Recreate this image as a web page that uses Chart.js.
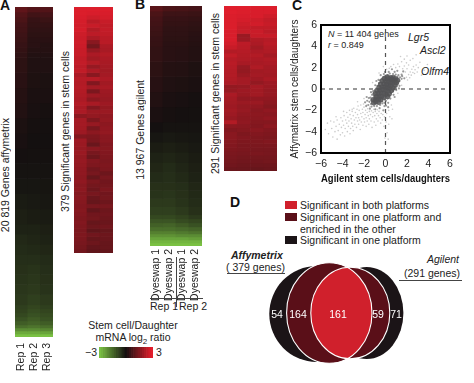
<!DOCTYPE html>
<html><head><meta charset="utf-8">
<script src="https://cdn.jsdelivr.net/npm/chart.js@4"></script>
<style>
html,body{margin:0;padding:0;background:#fff;overflow:hidden}
#page{position:relative;width:474px;height:383px;font-family:"Liberation Sans",Arial,sans-serif;font-size:10.5px;color:#222}
canvas{position:absolute;display:block}
.t{position:absolute;white-space:nowrap;line-height:12px}
.v{position:absolute;white-space:nowrap;line-height:12px;writing-mode:vertical-rl;transform:rotate(180deg)}
.p{position:absolute;font-weight:bold;font-size:14px;line-height:14px;color:#111}
.ln{position:absolute;background:#444}
.sw{position:absolute;left:285px;width:12px;height:8px}
</style></head><body><div id="page">
<div class="p" style="left:0;top:-2px">A</div>
<div class="p" style="left:135px;top:-3px">B</div>
<div class="p" style="left:292px;top:-2px">C</div>
<div class="p" style="left:230px;top:195px">D</div>
<div class="v" style="left:-1px;top:118px">20 819 Genes affymetrix</div>
<div class="v" style="left:59px;top:51px">379 Significant genes in stem cells</div>
<div class="v" style="left:134px;top:80px">13 967 Genes agilent</div>
<div class="v" style="left:209px;top:13px">291 Significant genes in stem cells</div>
<div class="t" style="left:150px;top:300px">Rep 1</div>
<div class="t" style="left:179px;top:300px">Rep 2</div>
<div class="t" style="left:83px;top:319px;width:100px;text-align:center">Stem cell/Daughter</div>
<div class="t" style="left:83px;top:331px;width:100px;text-align:center">mRNA log<sub style="font-size:8px;line-height:0">2</sub> ratio</div>
<div class="t" style="left:85px;top:346px">−3</div>
<div class="t" style="left:156px;top:346px">3</div>
<div class="t" style="left:328px;top:28px;font-size:9px"><i>N</i> = 11 404 genes</div>
<div class="t" style="left:328px;top:39px;font-size:9px"><i>r</i> = 0.849</div>
<div class="t" style="left:408px;top:31px;font-style:italic">Lgr5</div>
<div class="t" style="left:420px;top:44px;font-style:italic">Ascl2</div>
<div class="t" style="left:421px;top:65px;font-style:italic">Olfm4</div>
<div class="sw" style="top:201px;background:#d0202c"></div>
<div class="sw" style="top:213px;background:#5a0f18"></div>
<div class="sw" style="top:236px;background:#1b1417"></div>
<div class="t" style="left:300px;top:199px">Significant in both platforms</div>
<div class="t" style="left:300px;top:211px">Significant in one platform and</div>
<div class="t" style="left:300px;top:223px">enriched in the other</div>
<div class="t" style="left:300px;top:234px">Significant in one platform</div>
<div class="t" style="left:231px;top:249px;font-weight:bold;font-style:italic">Affymetrix</div>
<div class="t" style="left:226px;top:261px">( 379 genes)</div>
<div class="ln" style="left:227px;top:273px;width:58px;height:1px"></div>
<div class="t" style="right:15px;top:253px;font-style:italic">Agilent</div>
<div class="t" style="right:14px;top:267px">(291 genes)</div>
<div class="ln" style="left:399px;top:280px;width:63px;height:1px"></div>
</div>
<script>
const repLabels = ['Rep 1','Rep 2','Rep 3'];
const dyeLabels = ['Dyeswap 1','Dyeswap 2','Dyeswap 1','Dyeswap 2'];

const affyAllBinGenes = [315,315,315,315,315,315,315,315,315,315,945,945,945,945,945,945,945,945,945,945,945,630,630,630,630,630,630,630,630,252,252,252,252,252,189,189,189,189];
const affyAllRows = [
[1.1,.9,.9],[.9,.65,.7],[.8,.5,.55],[.7,.45,.45],[.65,.4,.4],[.6,.35,.35],[.55,.3,.3],[.5,.3,.25],[.45,.25,.25],[.4,.2,.2],
[.35,.18,.18],[.3,.15,.12],[.25,.1,.1],[.2,.08,.05],[.12,.03,.02],[.08,0,0],[.02,-.02,-.02],[-.05,-.05,-.05],[-.1,-.1,-.08],[-.18,-.15,-.12],[-.25,-.2,-.18],
[-.3,-.3,-.25],[-.4,-.35,-.3],[-.45,-.42,-.38],[-.5,-.5,-.45],[-.55,-.6,-.5],[-.6,-.65,-.55],[-.65,-.7,-.6],[-.7,-.8,-.7],
[-.8,-.9,-.8],[-.85,-1,-.9],[-.95,-1.1,-1],[-1.1,-1.25,-1.1],[-1.3,-1.4,-1.3],
[-1.6,-1.7,-1.6],[-2.1,-2.1,-2],[-2.6,-2.6,-2.5],[-3,-3,-3]];

const affySigRows = [
[2.9,2.9,2.9],[2.9,2.85,2.85],[2.85,2.7,2.8],[2.8,2.4,2.6],[2.75,2.6,2.5],[2.8,2.3,2.55],[2.7,2.45,2.5],[2.65,2.2,2.4],[2.7,1.7,2.4],[2.65,1.4,2.2],
[2.6,1.9,2.15],[2.6,2.2,2.3],[2.5,2.05,2.2],[2.55,2.3,2.15],[2.45,1.9,2.1],[2.5,2.2,2.05],[2.2,1.7,2.1],[2.35,2.35,2.2],[2.3,1.6,2.05],[2.35,2.1,2.15],
[2.3,1.5,2],[2.25,2,1.95],[2.2,1.75,1.9],[2.3,2.15,2],[2.15,1.6,1.85],[2.2,1.95,1.95],[1.75,1.85,1.8],[2.1,1.55,1.85],[2.1,1.9,1.75],[2.05,1.45,1.8],
[2,1.75,1.85],[1.6,1.55,1.7],[2,1.5,1.7],[1.95,1.25,1.6],[1.9,1.7,1.65],[1.95,1.45,1.6],[1.85,1.3,1.55],[1.9,1.6,1.5],[1.85,1.55,1.55],[1.8,1.35,1.5],
[1.8,1.45,1.3],[1.75,1.2,1.45],[1.8,1.5,1.35],[1.7,1.4,1.4],[1.75,1.3,1.5],[1.65,1.45,1.35],[1.7,1.25,1.4],[1.65,1.2,1.3],[1.6,1.45,1.45],[1.65,1.15,1.3],
[1.6,1.35,1.35],[1.55,1.4,1.3],[1.6,1.2,1.25],[1.55,1.3,1.35],[1.5,1.1,1.2],[1.55,1.35,1.3],[1.5,1.2,1.25],[1.45,1.3,1.2],[1.4,1.15,1.2],[1.35,1.1,1.15]];

const agilentAllBinGenes = [290,290,290,290,290,290,290,290,870,870,870,870,870,580,580,580,580,580,580,464,464,464,464,232,232,232,232,174,174,174,174,174];
const agilentAllRows = [
[1.0,.8,.75,.7],[.8,.6,.6,.55],[.7,.5,.5,.45],[.65,.45,.45,.4],[.6,.4,.4,.35],[.55,.38,.38,.3],[.5,.35,.35,.28],[.48,.32,.32,.25],
[.42,.3,.28,.22],[.35,.24,.22,.15],[.28,.18,.15,.1],[.2,.1,.08,.03],[.1,.04,.02,-.02],
[0,-.05,-.05,-.05],[-.1,-.15,-.12,-.1],[-.2,-.25,-.2,-.15],[-.3,-.35,-.28,-.2],[-.38,-.45,-.35,-.25],[-.45,-.5,-.42,-.3],
[-.55,-.55,-.5,-.38],[-.6,-.62,-.55,-.42],[-.7,-.7,-.6,-.48],[-.8,-.8,-.7,-.55],
[-.95,-.95,-.85,-.7],[-1.15,-1.15,-1,-.9],[-1.35,-1.4,-1.25,-1.1],[-1.6,-1.6,-1.5,-1.4],
[-1.9,-1.9,-1.8,-1.7],[-2.2,-2.2,-2.1,-2.1],[-2.5,-2.5,-2.5,-2.4],[-2.8,-2.8,-2.8,-2.8],[-3,-3,-3,-3]];

const agilentSigRows = [
[2.95,2.95,2.9,2.9],[2.95,2.9,2.85,2.85],[2.9,2.85,2.85,2.7],[2.9,2.8,2.7,2.55],[2.9,2.7,2.75,2.6],[2.9,2.6,2.5,2.5],[2.85,2.6,2.65,2.45],[2.85,1.95,2.6,2.6],[2.85,2.0,2.25,2.35],[2.75,2.45,2.2,2.4],
[2.6,2.4,2.05,2.3],[2.3,2.35,2.2,2.25],[2.5,2.3,2.3,2.1],[2.35,2.25,2.2,2.25],[2.4,2.15,2.15,2.2],[2.35,1.9,2.25,2.1],[2.3,1.85,2.05,2.1],[2.3,1.95,2.1,2.05],[2.25,2.1,2.0,2.15],[2.2,2.1,1.85,2],
[1.85,1.9,2.1,1.95],[1.9,2,2.05,1.9],[2.2,1.95,2.05,1.9],[2.1,1.8,1.8,1.8],[2.05,1.95,1.95,1.75],[2,1.85,1.8,1.65],[2.05,1.9,1.7,1.8],[2.0,1.8,1.75,1.7],[1.9,1.75,1.7,1.8],[2.3,1.8,1.65,1.65],
[1.75,1.7,1.6,1.75],[1.6,1.65,1.7,1.6],[1.7,1.55,1.6,1.55],[1.7,1.6,1.55,1.5],[1.65,1.55,1.55,1.6],[1.6,1.5,1.5,1.5],[1.55,1.5,1.45,1.45],[1.5,1.45,1.5,1.45],[1.45,1.4,1.4,1.4],[1.4,1.35,1.35,1.4],[1.35,1.3,1.3,1.3],[1.25,1.25,1.2,1.25]];

const colorBarValues = [-3,-2.75,-2.5,-2.25,-2,-1.75,-1.5,-1.25,-1,-.75,-.5,-.25,0,.25,.5,.75,1,1.25,1.5,1.75,2,2.25,2.5,2.75,3];

const xTickValues = [-6,-4,-2,0,2,4,6];
const dashedH = [[-6,0],[6,0]];
const dashedV = [[0,-6],[0,6]];
const scatterCore = [
[-1.1,-1.3],[-.9,-1.2],[-.65,-1.25],[-1.15,-1.0],[-.9,-.95],[-.65,-.95],[-.45,-1.0],[-.85,-.7],[-.6,-.65],[-.35,-.7],[-.15,-.8],
[-.65,-.4],[-.4,-.35],[-.15,-.4],[.05,-.5],[-.5,-.1],[-.25,-.05],[0,-.1],[.2,-.2],[-.3,.2],[-.05,.2],[.2,.15],[.35,.05],
[-.15,.5],[.1,.45],[.3,.4],[.5,.3],[0,.75],[.25,.7],[.5,.65],[.65,.55],[.2,.95],[.45,.9],[.7,.85],[.85,.75],[.5,1.05],[.7,1.05],[.95,.95],
[-.95,-.45],[-.8,-.15],[-.6,.15],[-.45,.45],[-.3,.75],[-.1,1.0],[.15,1.12],
[.2,-.7],[.35,-.45],[.55,-.15],[.7,.1],[.9,.35],[1.02,.6],[1.12,.82]];
const scatterHalo = [
[-1.6,-1.5],[-1.5,-1.2],[-1.7,-1.1],[-1.4,-.8],[-1.25,-.55],[-1.1,-.4],[-1.0,-.15],[-.85,.05],[-.75,.3],[-.6,.55],[-.5,.8],[-.35,.95],[-.2,1.1],[0,1.2],[.2,1.3],[.4,1.45],[.7,1.4],[.95,1.35],
[1.2,1.3],[1.35,1.1],[1.3,.75],[1.15,.5],[.95,.25],[.8,.05],[.7,-.2],[.5,-.4],[.35,-.65],[.2,-.9],[.05,-1.1],[-.1,-1.3],[-.3,-1.35],[-.5,-1.5],[-.8,-1.6],[-1.05,-1.6],[-1.3,-1.65],
[-1.55,-.85],[-1.15,-.2],[-.95,.35],[-.65,.85],[-.15,1.4],[.3,1.6],[.85,1.6],[1.5,1.35],[1.5,.95],[1.3,.3],[1.0,-.1],[.75,-.55],[.45,-.9],[.25,-1.3],[-.1,-1.6],[-.55,-1.8],[-1.45,-1.85],[-1.8,-1.6],[-1.9,-1.25],
[-.95,-1.9],[-.2,-2.0],[.25,-1.7],[.05,-1.55],[1.65,1.65],[1.55,1.2],[1.1,1.7],[.6,1.85],[-.05,1.6],[-.45,1.3],[-.85,.75],[-1.35,-.3],[-1.75,-.75],[1.75,1.0],[1.25,.05],[.85,-.75],
[1.1,1.15],[.85,1.2],[.35,1.15],[1.05,.7],[.9,.5],[.6,.1],[.45,-.25],[.25,-.6],[-.05,-1.0],[-.3,-1.15],[-1.35,-1.4],[-1.3,-1.05],[-1.05,-.7],[-.9,-.35],[-.7,-.1],[-.55,.25],[-.35,.6],[-.2,.85]];
const scatterSparse = [
[-5.4,-3.2],[-5.3,-4.2],[-5.0,-3.7],[-4.9,-4.5],[-4.8,-3.1],[-4.7,-4.0],[-4.6,-3.5],[-4.5,-4.7],[-4.5,-2.9],[-4.4,-3.9],[-4.3,-3.3],[-4.2,-4.3],[-4.15,-2.7],[-4.1,-3.6],[-4.0,-4.1],[-4.0,-3.0],[-3.9,-3.4],[-3.85,-2.5],[-3.8,-4.4],[-3.75,-3.7],
[-3.7,-2.9],[-3.6,-3.2],[-3.6,-2.2],[-3.55,-4.0],[-3.5,-2.65],[-3.45,-3.5],[-3.4,-3.0],[-3.35,-2.0],[-3.3,-4.2],[-3.3,-2.4],[-3.25,-3.7],[-3.2,-2.8],[-3.15,-3.2],[-3.1,-2.1],[-3.05,-3.5],[-3.0,-2.5],[-3.0,-3.9],[-2.95,-1.8],[-2.9,-2.9],[-2.85,-3.3],
[-2.8,-2.2],[-2.75,-2.7],[-2.7,-3.6],[-2.65,-1.9],[-2.6,-3.0],[-2.6,-2.4],[-2.55,-1.6],[-2.5,-3.3],[-2.5,-2.7],[-2.45,-2.0],[-2.4,-2.9],[-2.35,-3.8],[-2.3,-2.3],[-2.3,-1.5],[-2.25,-3.1],[-2.2,-2.6],[-2.15,-1.9],[-2.1,-3.4],[-2.1,-2.2],[-2.05,-1.4],
[-2.0,-2.8],[-2.0,-1.7],[-1.95,-3.1],[-1.9,-2.4],[-1.85,-2.0],[-1.8,-3.5],[-1.8,-2.7],[-1.75,-1.5],[-1.7,-2.2],[-1.7,-3.0],[-1.65,-1.85],[-1.6,-2.5],[-1.55,-3.3],[-1.5,-2.1],[-1.5,-2.8],[-1.45,-1.7],[-1.4,-2.4],[-1.35,-3.0],[-1.3,-2.05],[-1.25,-3.6],
[-1.2,-2.6],[-1.15,-2.2],[-1.1,-1.9],[-1.05,-3.1],[-1.0,-2.5],[-.95,-2.1],[-.9,-3.4],[-.85,-2.8],[-.8,-2.3],[-.75,-1.95],[-.7,-3.0],[-.65,-2.5],[-.6,-2.1],[-.5,-2.7],[-.45,-3.2],[-.4,-2.3],[-.3,-2.9],[-.25,-2.4],[-.15,-3.5],[-.1,-2.6],
[-.05,-4.6],[.05,-3.1],[.1,-2.3],[.15,-4.1],[.3,-2.0],[.4,-2.6],[.55,-1.5],[.65,-1.9],[1.15,-.4],[1.5,.35],[1.95,1.1],[2.05,.85],[2.15,1.35],[2.25,1.05],[2.3,1.6],
[2.4,1.3],[2.45,1.85],[2.55,1.55],[2.6,2.1],[2.7,1.45],[2.75,1.8],[2.85,2.25],[2.95,1.6],[3.05,2.0],[3.2,2.5],[3.35,1.3],[1.6,1.9],[1.85,1.6],[1.75,2.15],[2.0,1.9],[2.15,2.25],[1.95,2.45],[1.3,2.1],[1.5,2.55],[1.15,2.35],
[2.3,2.7],[2.55,2.85],[1.75,2.8],[2.0,3.1],[1.4,3.05],[2.85,3.2],[.95,2.0],[.75,2.3],[.5,2.1],[.35,1.95],[.1,1.85],[-.2,2.1],[-.6,1.5],[-1.2,.6],[-2.0,-.9],[-2.6,-1.2],[-3.1,-1.9],
[3.6,1.75],[3.9,2.3],[.6,-2.8],[.3,-3.3],[.0,-1.95],[.25,-4.7],[-3.9,-2.1],[-4.6,-2.6],[-5.1,-3.0],[-5.6,-3.8]];

const repDivider = [[2,-6],[2,12]];
const repRule = [[-.5,0],[3.5,0]];

const vennCounts = [54,164,161,59,71];
const vennCountX = [277,298,338,378,396];
const vennCountY = [315,315,315,315,315];
const vennBlackL = {cx:316.7,cy:314,rx:47.4,ry:48};
const vennBlackR = {cx:366.7,cy:313,rx:36.7,ry:46};
const vennDarkL = {cx:329.3,cy:313,rx:42.7,ry:50.3};
const vennDarkR = {cx:350.3,cy:313,rx:39.5,ry:45.8};

const FONT = '"Liberation Sans", Arial, sans-serif';
Chart.defaults.font.family = FONT;
Chart.defaults.font.size = 10.5;
Chart.defaults.color = '#222';
Chart.defaults.animation = false;
Chart.defaults.responsive = false;
Chart.defaults.devicePixelRatio = 1;
Chart.defaults.plugins.legend.display = false;
Chart.defaults.plugins.tooltip.enabled = false;

function ratioColor(v){
  const k = Math.min(1, Math.abs(v)/3);
  const hi = v >= 0 ? [226,30,44] : [122,193,67];
  const lo = [20,16,16];
  const c = lo.map((b,i)=>Math.round(b+(hi[i]-b)*k));
  return `rgb(${c[0]},${c[1]},${c[2]})`;
}
function addCanvas(left,top,w,h){
  const c = document.createElement('canvas');
  c.width=w; c.height=h;
  c.style.left=left+'px'; c.style.top=top+'px';
  c.style.width=w+'px'; c.style.height=h+'px';
  document.getElementById('page').appendChild(c);
  return c.getContext('2d');
}
function heatmap(box,labels,rows,bins,axisH,tickPad){
  const total = bins ? bins.reduce((a,b)=>a+b,0) : rows.length;
  new Chart(addCanvas(box[0],box[1],box[2],box[3]),{
    type:'bar',
    data:{labels,datasets:rows.map((r,i)=>({
      data:r.map(()=>bins?bins[i]:1),
      backgroundColor:r.map(ratioColor),
      borderWidth:0,barPercentage:1,categoryPercentage:1,stack:'s'}))},
    options:{
      layout:{padding:0},
      scales:{
        y:{display:false,stacked:true,reverse:true,min:0,max:total},
        x:{display:axisH>0,stacked:true,grid:{display:false,drawTicks:false},border:{display:false},
           ticks:{maxRotation:90,minRotation:90,padding:tickPad,color:'#222',autoSkip:false},
           afterFit:s=>{s.height=axisH;s.paddingLeft=0;s.paddingRight=0;}}
      }}});
}
heatmap([15,7,38,365],repLabels,affyAllRows,affyAllBinGenes,35,6);
heatmap([74,7,39,246],repLabels,affySigRows,null,0,0);
heatmap([150,6,52,296],dyeLabels,agilentAllRows,agilentAllBinGenes,56,3);
heatmap([224,6,53,165],dyeLabels,agilentSigRows,null,0,0);

const ruleBox = document.createElement('div');
ruleBox.innerHTML = '<div class="ln" style="left:176px;top:257px;width:1px;height:50px"></div><div class="ln" style="left:150px;top:298px;width:53px;height:1px"></div>';
document.getElementById('page').appendChild(ruleBox);

new Chart(addCanvas(99,347,54,11),{
  type:'bar',
  data:{labels:colorBarValues,datasets:[{data:colorBarValues.map(()=>1),backgroundColor:colorBarValues.map(ratioColor),barPercentage:1,categoryPercentage:1,borderWidth:0}]},
  options:{layout:{padding:0},scales:{x:{display:false},y:{display:false,min:0,max:1}}}
});

const toXY = a=>a.map(p=>({x:p[0],y:p[1]}));
const frame = {id:'frame',afterDraw(c){const g=c.ctx,a=c.chartArea;g.save();g.strokeStyle='#000';g.lineWidth=2;g.strokeRect(a.left,a.top,a.right-a.left,a.bottom-a.top);g.restore();}};
new Chart(addCanvas(285,0,189,185),{
  type:'scatter',
  data:{datasets:[
    {data:toXY(scatterSparse),pointRadius:.8,pointBorderWidth:0,pointBackgroundColor:'rgba(110,110,110,.36)'},
    {data:toXY(scatterHalo),pointRadius:1.1,pointBorderWidth:0,pointBackgroundColor:'rgba(85,85,85,.6)'},
    {data:toXY(scatterCore),pointRadius:2.7,pointBorderWidth:0,pointBackgroundColor:'rgba(84,84,86,.85)'},
    {data:toXY(dashedH),showLine:true,pointRadius:0,borderColor:'#555',borderWidth:1.2,borderDash:[4,4]},
    {data:toXY(dashedV),showLine:true,pointRadius:0,borderColor:'#555',borderWidth:1.2,borderDash:[4,4]}
  ]},
  plugins:[frame],
  options:{
    layout:{padding:{top:25,right:24,left:0,bottom:0}},
    scales:{
      x:{type:'linear',min:-6,max:6,afterBuildTicks:s=>{s.ticks=xTickValues.map(v=>({value:v}));},
         grid:{display:false,drawTicks:true,tickLength:3,tickColor:'#000'},border:{display:false},
         ticks:{color:'#222',padding:2,maxRotation:0,callback:v=>String(v).replace('-','−')},
         title:{display:true,text:'Agilent stem cells/daughters',font:{weight:'bold',size:10.5},color:'#111',padding:{top:3,bottom:0}},
         afterFit:s=>{s.height=32;}},
      y:{type:'linear',min:-6,max:6,afterBuildTicks:s=>{s.ticks=xTickValues.map(v=>({value:v}));},
         grid:{display:false,drawTicks:true,tickLength:3,tickColor:'#000'},border:{display:false},
         ticks:{color:'#222',padding:1,callback:v=>String(v).replace('-','−')},
         title:{display:true,text:'Affymatrix stem cells/daughters',font:{size:10},color:'#222',padding:{top:4,bottom:0}},
         afterFit:s=>{s.width=36;}}
    }}
});

const vennPlugin = {id:'venn',beforeDatasetsDraw(c){
  const g=c.ctx,X=c.scales.x,Y=c.scales.y;
  const path=e=>{const x=X.getPixelForValue(e.cx),y=Y.getPixelForValue(e.cy);
    g.beginPath();g.ellipse(x,y,Math.abs(X.getPixelForValue(e.cx+e.rx)-x),Math.abs(Y.getPixelForValue(e.cy+e.ry)-y),0,0,Math.PI*2);};
  g.save();
  g.fillStyle='#1b1417';path(vennBlackL);g.fill();path(vennBlackR);g.fill();
  g.fillStyle='#5a0f18';path(vennDarkL);g.fill();path(vennDarkR);g.fill();
  g.save();path(vennDarkL);g.clip();g.fillStyle='#d0202c';path(vennDarkR);g.fill();g.restore();
  g.strokeStyle='#fff';g.lineWidth=1.1;path(vennDarkL);g.stroke();path(vennDarkR);g.stroke();
  g.restore();
},afterDatasetsDraw(c){
  const g=c.ctx,m=c.getDatasetMeta(0);
  g.save();g.fillStyle='#fff';g.font='10.5px '+FONT;g.textAlign='center';g.textBaseline='middle';
  m.data.forEach((p,i)=>g.fillText(vennCounts[i],p.x,p.y));
  g.restore();
}};
new Chart(addCanvas(250,250,170,130),{
  type:'scatter',
  data:{datasets:[{data:vennCounts.map((n,i)=>({x:vennCountX[i],y:vennCountY[i]})),pointRadius:0}]},
  plugins:[vennPlugin],
  options:{layout:{padding:0},scales:{x:{display:false,type:'linear',min:250,max:420},y:{display:false,type:'linear',min:250,max:380,reverse:true}}}
});
</script></body></html>
